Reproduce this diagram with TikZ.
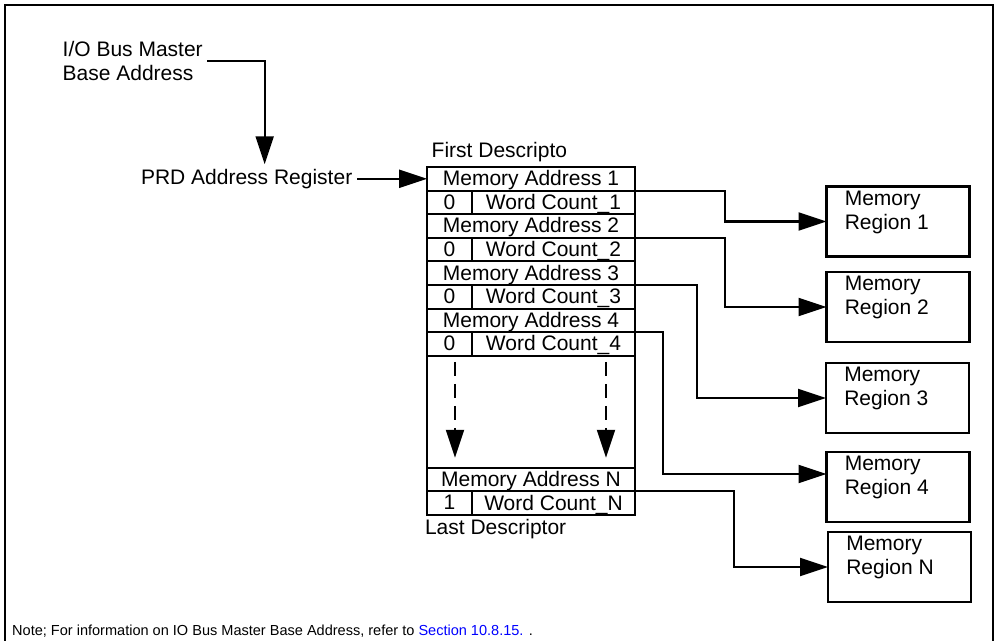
\documentclass[tikz,border=0pt]{standalone}
\usepackage{fontspec}
\setmainfont{Liberation Sans}
\usetikzlibrary{arrows.meta, positioning, calc}

\begin{document}
\begin{tikzpicture}[
  x=0.75pt, y=-0.75pt,
  every node/.style={font=\fontsize{15.75pt}{18pt}\selectfont},
  field/.style={rectangle, draw, line width=1.6pt, inner sep=0pt, outer sep=0pt, minimum height=17.7pt, text depth=1pt},
  addr/.style={field, minimum width=156pt},
  flag/.style={field, minimum width=33.75pt},
  count/.style={field, minimum width=122.25pt},
  region/.style={rectangle, draw, line width=1.6pt, outer sep=0pt, minimum width=107.25pt, minimum height=52.5pt},
  regtext/.style={anchor=north west, align=left, inner sep=0pt, xshift=13.5pt, yshift=-3pt},
  arrow/.style={-{Triangle[length=21pt, width=13.5pt]}, line width=1.6pt},
  dasharrow/.style={arrow, dash pattern=on 10.5pt off 6pt}
]

\useasboundingbox (0,0) rectangle (1000,641);

% Frame
\draw[line width=1.6pt] (5,645) |- (993,5) -- (993,645);

% Descriptor table
\node[addr, anchor=north west] (ma1) at (427,167) {Memory Address 1};
\node[flag, anchor=north west] (f1) at (ma1.south west) {0};
\node[count, right=0pt of f1] (wc1) {Word Count\_1};
\node[addr, anchor=north west] (ma2) at (f1.south west) {Memory Address 2};
\node[flag, anchor=north west] (f2) at (ma2.south west) {0};
\node[count, right=0pt of f2] (wc2) {Word Count\_2};
\node[addr, anchor=north west] (ma3) at (f2.south west) {Memory Address 3};
\node[flag, anchor=north west] (f3) at (ma3.south west) {0};
\node[count, right=0pt of f3] (wc3) {Word Count\_3};
\node[addr, anchor=north west] (ma4) at (f3.south west) {Memory Address 4};
\node[flag, anchor=north west] (f4) at (ma4.south west) {0};
\node[count, right=0pt of f4] (wc4) {Word Count\_4};
\node[addr, anchor=north west, minimum height=84pt] (gap) at (f4.south west) {};
\node[addr, anchor=north west] (man) at (gap.south west) {Memory Address N};
\node[flag, anchor=north west] (fn) at (man.south west) {1};
\node[count, right=0pt of fn] (wcn) {Word Count\_N};

\node[above=0pt of ma1.north west, anchor=south west] (first) {First Descripto};
\node[below=0pt of fn.south west, anchor=north west, xshift=-5pt] (last) {Last Descriptor};

% Dashed arrows
\coordinate (dla) at ($(gap.north west)+(28,6)$);
\coordinate (dlb) at ($(gap.south west)+(28,-10)$);
\coordinate (dra) at ($(gap.north east)+(-29,6)$);
\coordinate (drb) at ($(gap.south east)+(-29,-10)$);
\draw[dasharrow] (dla) -- (dlb);
\draw[dasharrow] (dra) -- (drb);

% Base address and register
\node[align=left, anchor=west] (iobase) at (58,61) {I/O Bus Master\\Base Address};
\node[left=52.5pt of ma1] (prd) {PRD Address Register};
\draw[arrow] (iobase.east) -| ([xshift=13.5pt]prd.north);
\draw[arrow] (prd) -- (ma1);

% Memory regions
\node[region, label={[regtext]north west:{Memory\\Region 1}}] (reg1) at (898,221.5) {};
\node[region, label={[regtext]north west:{Memory\\Region 2}}] (reg2) at (898,307) {};
\node[region, label={[regtext]north west:{Memory\\Region 3}}] (reg3) at (897.5,398) {};
\node[region, label={[regtext]north west:{Memory\\Region 4}}] (reg4) at (898,487) {};
\node[region, label={[regtext]north west:{Memory\\Region N}}] (regn) at (899.5,567) {};

\draw[arrow] (wc1.north east) -- ++(90,0) |- (reg1);
\draw[arrow] (wc2.north east) -- ++(90,0) |- (reg2);
\draw[arrow] (wc3.north east) -- ++(62,0) |- (reg3);
\draw[arrow] (wc4.north east) -- ++(28,0) |- ([yshift=9.75pt]reg4.west);
\draw[arrow] (wcn.north east) -- ++(99,0) |- (regn);

% Note
\node[anchor=west, font=\fontsize{10.9pt}{13pt}\selectfont] (note) at (7.5,631) {Note; For information on IO Bus Master Base Address, refer to \textcolor{blue}{Section 10.8.15.} .};

\end{tikzpicture}
\end{document}
